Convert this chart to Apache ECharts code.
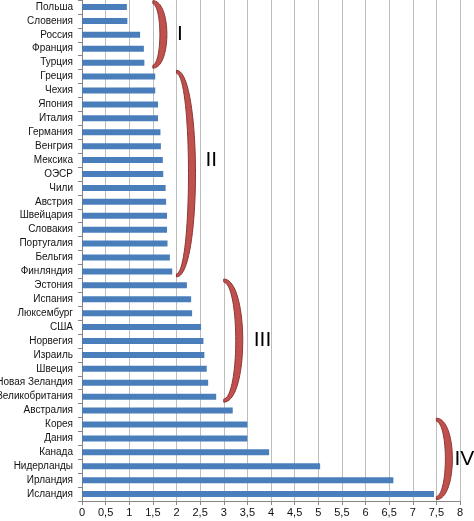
<!DOCTYPE html>
<html><head><meta charset="utf-8">
<script src="https://cdn.jsdelivr.net/npm/echarts@6/dist/echarts.min.js"></script>
<style>html,body{margin:0;padding:0;background:#fff}#c{width:474px;height:521px}</style>
</head><body><div id="c"></div>
<script>
const countries = ['Польша','Словения','Россия','Франция','Турция','Греция','Чехия','Япония','Италия','Германия','Венгрия','Мексика','ОЭСР','Чили','Австрия','Швейцария','Словакия','Португалия','Бельгия','Финляндия','Эстония','Испания','Люксембург','США','Норвегия','Израиль','Швеция','Новая Зеландия','Великобритания','Австралия','Корея','Дания','Канада','Нидерланды','Ирландия','Исландия'];
const values = [0.95,0.96,1.23,1.31,1.32,1.55,1.55,1.61,1.61,1.66,1.67,1.71,1.72,1.77,1.78,1.80,1.80,1.81,1.86,1.91,2.22,2.31,2.33,2.52,2.57,2.59,2.64,2.67,2.84,3.19,3.50,3.50,3.96,5.04,6.59,7.45];
const xMin = 0, xMax = 8, xStep = 0.5;
// groups marked by brackets
const groupNames = ['I','II','III','IV'];
const groupFirst = ['Польша','Греция','Эстония','Корея'];
const groupLast = ['Турция','Финляндия','Великобритания','Исландия'];
const groupAt = [1.5, 2.0, 3.0, 7.5];

const chart = echarts.init(document.getElementById('c'));
const FONT = '"Liberation Sans", Arial, sans-serif';
chart.setOption({
  animation: false,
  grid: {left: 82, right: 14, top: 0, bottom: 20, outerBoundsMode: 'none', containLabel: false},
  xAxis: {
    type: 'value', min: xMin, max: xMax, interval: xStep,
    axisLine: {show: true, lineStyle: {color: '#868686'}},
    axisTick: {show: true, length: 4, lineStyle: {color: '#868686'}},
    axisLabel: {color: '#111', fontSize: 11, fontFamily: FONT, margin: 6,
      formatter: v => String(v).replace('.', ',')},
    splitLine: {show: true, lineStyle: {color: '#bdbdbd', width: 1}}
  },
  yAxis: {
    type: 'category', data: countries, inverse: true,
    axisLine: {show: true, lineStyle: {color: '#868686'}},
    axisTick: {show: true, length: 4, lineStyle: {color: '#868686'}},
    axisLabel: {color: '#111', fontSize: 10, fontFamily: FONT, margin: 9, interval: 0},
    splitLine: {show: false}
  },
  series: [{type: 'bar', data: values, barWidth: 6, itemStyle: {color: '#4a7ebb'}}]
});

function bez(p0, p1, p2, p3, n) {
  const pts = [];
  for (let k = 0; k <= n; k++) {
    const t = k / n, u = 1 - t;
    pts.push([u*u*u*p0[0] + 3*u*u*t*p1[0] + 3*u*t*t*p2[0] + t*t*t*p3[0],
              u*u*u*p0[1] + 3*u*u*t*p1[1] + 3*u*t*t*p2[1] + t*t*t*p3[1]]);
  }
  return pts;
}
function drawBrackets() {
  const band = chart.convertToPixel({yAxisIndex: 0}, countries[1]) - chart.convertToPixel({yAxisIndex: 0}, countries[0]);
  const widthPx = [14, 19, 19, 16];
  const gap = [10, 10, 11, 2];
  const dy = [0, -13, 0, 0];
  const elements = [];
  groupNames.forEach((name, i) => {
    const x0 = chart.convertToPixel({xAxisIndex: 0}, groupAt[i]);
    const yT = chart.convertToPixel({yAxisIndex: 0}, groupFirst[i]) - 0.45 * band;
    const yB = chart.convertToPixel({yAxisIndex: 0}, groupLast[i]) + 0.4 * band;
    const w = widthPx[i], wi = w - 7;
    const c = w / 0.75, ci = wi / 0.75;
    const outer = bez([x0, yT], [x0 + c, yT], [x0 + c, yB], [x0, yB], 40);
    const inner = bez([x0, yB - 3], [x0 + ci, yB - 6], [x0 + ci, yT + 6], [x0, yT + 3], 40);
    elements.push({type: 'polygon', shape: {points: outer.concat(inner)},
      style: {fill: '#c0504d', stroke: '#8a3634', lineWidth: 1}, z: 10});
    elements.push({type: 'text', x: x0 + w + gap[i], y: (yT + yB) / 2 + dy[i],
      style: {text: name, fill: '#000', font: '21px "Liberation Sans",Arial,sans-serif',
        verticalAlign: 'middle', align: 'left'}, z: 10});
  });
  chart.setOption({graphic: {elements}});
}
drawBrackets();
</script>
</body></html>
